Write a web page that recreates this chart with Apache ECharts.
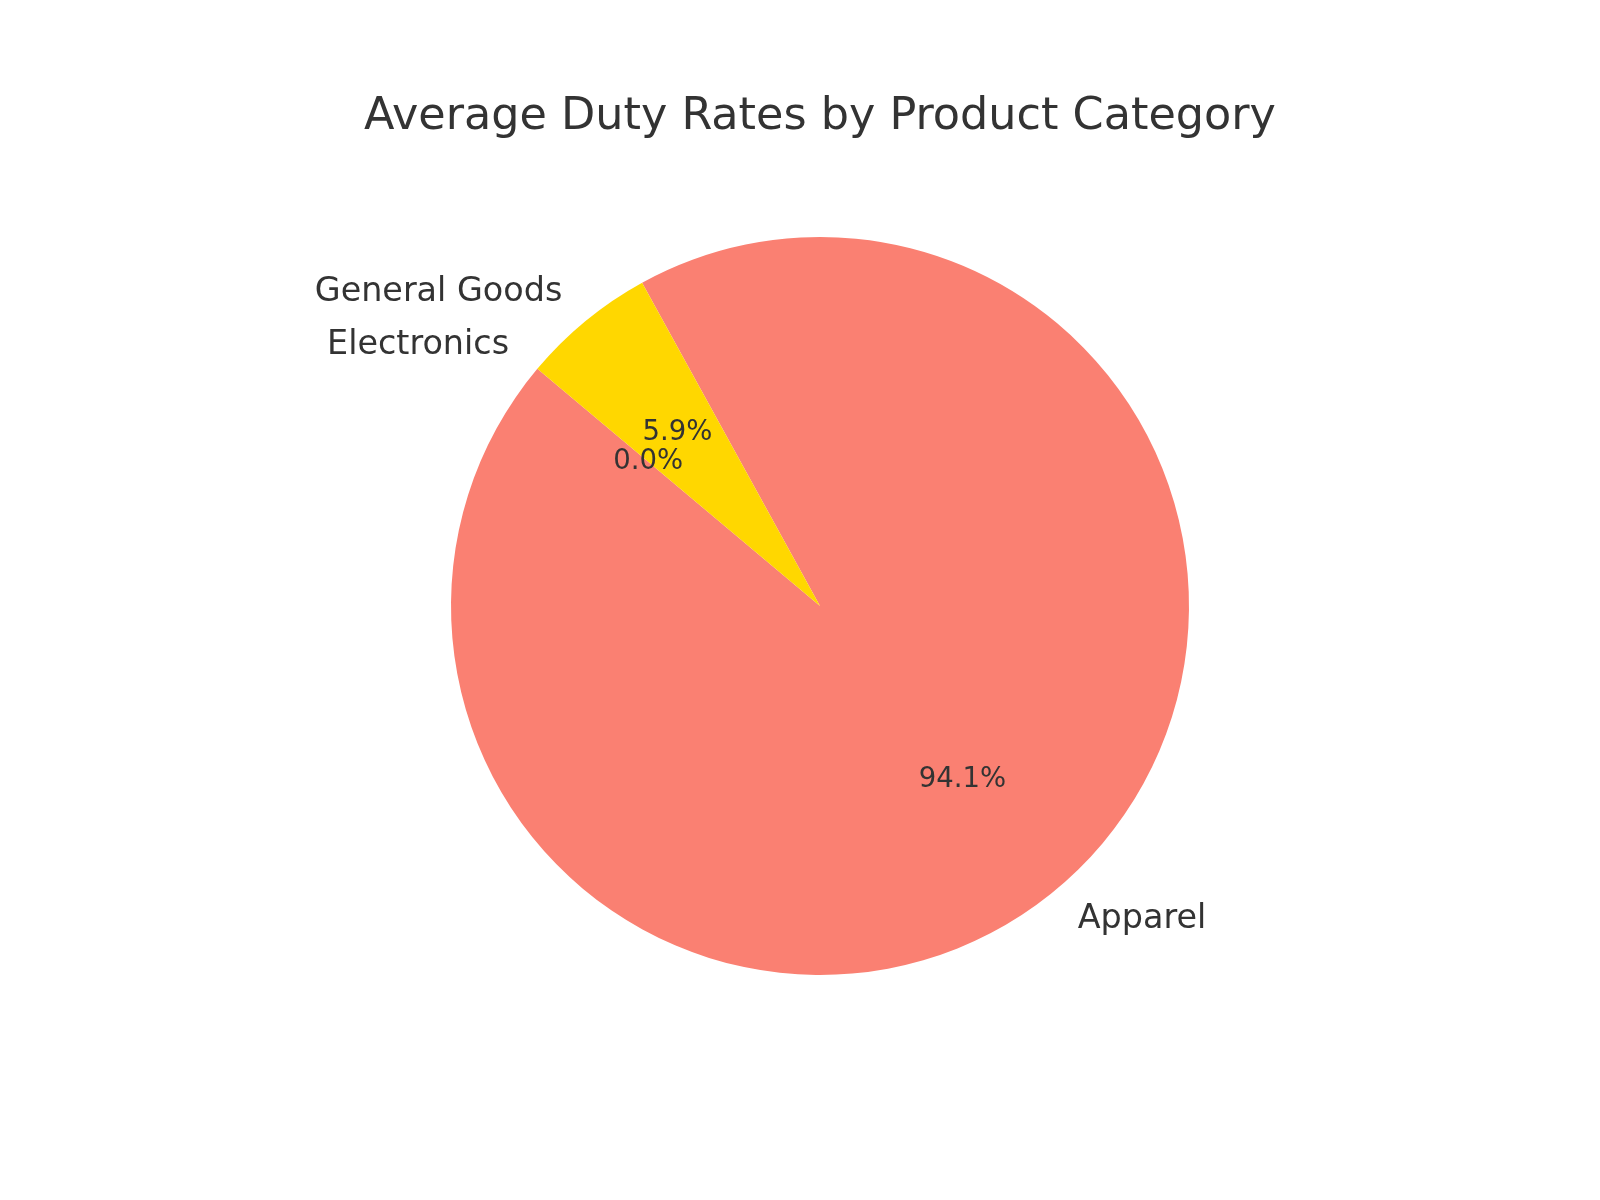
<!DOCTYPE html>
<html>
<head>
<meta charset="utf-8">
<script src="https://cdn.jsdelivr.net/npm/echarts@6/dist/echarts.min.js"></script>
<style>
  html, body { margin: 0; padding: 0; background: #fff; }
  #chart { width: 1600px; height: 1200px; }
</style>
</head>
<body>
<div id="chart"></div>
<script>
const categories = ['Apparel', 'General Goods', 'Electronics']
const dutyRates = [16, 1, 0]
const sliceColors = ['#FA8072', '#FFD700', '#87CEEB']

const FONT = 'DejaVu Sans'
const TEXT = '#333333'
const CX = 820
const CY = 606
const R = 369

const total = dutyRates.reduce((a, b) => a + b, 0)

const chart = echarts.init(document.getElementById('chart'))

const pieData = categories.map((name, i) => ({
  name,
  value: dutyRates[i],
  itemStyle: { color: sliceColors[i] }
}))

const option = {
  backgroundColor: '#ffffff',
  animation: false,
  title: {
    text: 'Average Duty Rates by Product Category',
    left: CX - 5,
    top: 90,
    textAlign: 'center',
    textStyle: {
      fontFamily: FONT,
      fontSize: 44.5,
      fontWeight: 'normal',
      color: TEXT
    }
  },
  series: [
    {
      // wedges + category labels at 1.1 R
      type: 'pie',
      center: [CX, CY],
      radius: [0, R],
      startAngle: 140,
      clockwise: false,
      avoidLabelOverlap: false,
      silent: true,
      emphasis: { disabled: true },
      data: pieData,
      label: {
        show: true,
        position: 'outside',
        formatter: '{b}',
        fontFamily: FONT,
        fontSize: 33.4,
        color: TEXT,
        distanceToLabelLine: 0
      },
      labelLine: { show: false, length: R * 0.1, length2: 0 }
    },
    {
      // percentage labels at 0.6 R
      type: 'pie',
      center: [CX, CY],
      radius: [0, R * 1.2],
      startAngle: 140,
      clockwise: false,
      avoidLabelOverlap: false,
      silent: true,
      emphasis: { disabled: true },
      data: categories.map((name, i) => ({ name, value: dutyRates[i] })),
      itemStyle: { color: 'rgba(0,0,0,0)' },
      label: {
        show: true,
        position: 'inside',
        formatter: p => (p.value / total * 100).toFixed(1) + '%',
        fontFamily: FONT,
        fontSize: 27.5,
        color: TEXT
      },
      labelLine: { show: false }
    }
  ]
}

chart.setOption(option)
</script>
</body>
</html>
